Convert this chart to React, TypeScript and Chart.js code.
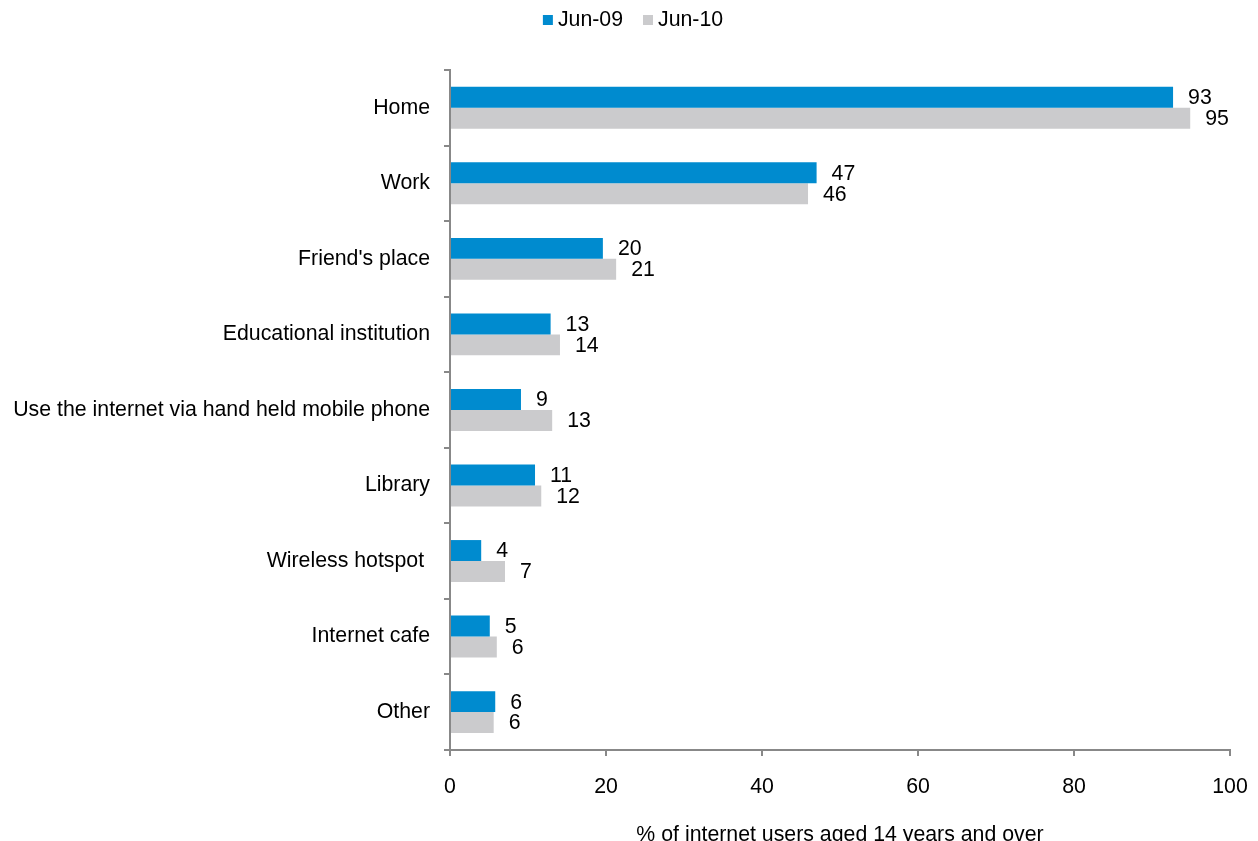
import React, { useEffect, useRef } from "react";
import { Chart, registerables } from "chart.js";

Chart.register(...registerables);

const categories = [
  "Home",
  "Work",
  "Friend's place",
  "Educational institution",
  "Use the internet via hand held mobile phone",
  "Library",
  "Wireless hotspot ",
  "Internet cafe",
  "Other",
];
const jun09 = [92.7, 47.0, 19.6, 12.9, 9.1, 10.9, 4.0, 5.1, 5.8];
const jun10 = [94.9, 45.9, 21.3, 14.1, 13.1, 11.7, 7.05, 6.0, 5.6];
const xTicks = [0, 20, 40, 60, 80, 100];
const FONT = "'Liberation Sans', Arial, sans-serif";
const FS = 21.3;

const dataLabels = {
  id: "dataLabels",
  afterDatasetsDraw(chart: any) {
    const ctx = chart.ctx;
    ctx.save();
    ctx.font = `${FS}px ${FONT}`;
    ctx.fillStyle = "#000";
    ctx.textAlign = "left";
    ctx.textBaseline = "middle";
    chart.data.datasets.forEach((ds: any, i: number) => {
      const meta = chart.getDatasetMeta(i);
      meta.data.forEach((bar: any, j: number) => {
        ctx.fillText(String(Math.round(ds.data[j])), bar.x + 15, bar.y + 1);
      });
    });
    ctx.restore();
  },
};

const topLegend = {
  id: "topLegend",
  afterDraw(chart: any) {
    const ctx = chart.ctx;
    ctx.save();
    ctx.font = `${FS}px ${FONT}`;
    ctx.textBaseline = "middle";
    ctx.textAlign = "left";
    const items = chart.data.datasets.map((ds: any) => ({
      label: ds.label,
      color: ds.backgroundColor,
      w: ctx.measureText(ds.label).width,
    }));
    const box = 10;
    const gap = 5;
    const spacing = 20;
    let total = 0;
    items.forEach((it: any, i: number) => {
      total += box + gap + it.w + (i > 0 ? spacing : 0);
    });
    let x = 625 - total / 2;
    const cy = 12;
    items.forEach((it: any) => {
      ctx.fillStyle = it.color;
      ctx.fillRect(x, cy - 5, box, box);
      ctx.fillStyle = "#000";
      ctx.fillText(it.label, x + box + gap, cy);
      x += box + gap + it.w + spacing;
    });
    ctx.restore();
  },
};

export default function App() {
  const ref = useRef<HTMLCanvasElement>(null);
  useEffect(() => {
    if (!ref.current) return;
    const chart = new Chart(ref.current, {
      type: "bar",
      data: {
        labels: categories,
        datasets: [
          { label: "Jun-09", data: jun09, backgroundColor: "#008BCF", barPercentage: 1, categoryPercentage: 0.555 },
          { label: "Jun-10", data: jun10, backgroundColor: "#CBCBCD", barPercentage: 1, categoryPercentage: 0.555 },
        ],
      },
      options: {
        indexAxis: "y",
        animation: false,
        responsive: true,
        maintainAspectRatio: false,
        layout: { padding: { top: 62, right: 20, bottom: 0, left: 0 } },
        plugins: {
          legend: { display: false },
          tooltip: { enabled: false },
        },
        scales: {
          x: {
            min: 0,
            max: 100,
            afterBuildTicks: (axis: any) => {
              axis.ticks = xTicks.map((v) => ({ value: v }));
            },
            afterFit: (axis: any) => {
              axis.paddingRight = 0;
              axis.paddingLeft = 0;
            },
            grid: { drawOnChartArea: false, tickLength: 6, color: "#888", lineWidth: 2 },
            border: { color: "#888", width: 2 },
            ticks: { color: "#000", font: { family: FONT, size: FS }, padding: 18, maxRotation: 0 },
            title: {
              display: true,
              text: "% of internet users aged 14 years and over",
              color: "#000",
              font: { family: FONT, size: FS },
              padding: { top: 5, bottom: 0 },
            },
          },
          y: {
            afterFit: (axis: any) => {
              axis.width = 442;
            },
            grid: { drawOnChartArea: false, tickLength: 6, color: "#888", lineWidth: 2, offset: true },
            border: { color: "#888", width: 2 },
            ticks: { color: "#000", font: { family: FONT, size: FS }, padding: 14 },
          },
        },
      },
      plugins: [dataLabels, topLegend],
    });
    return () => chart.destroy();
  }, []);
  return (
    <div style={{ width: 1242, height: 840 }}>
      <canvas ref={ref} />
    </div>
  );
}
